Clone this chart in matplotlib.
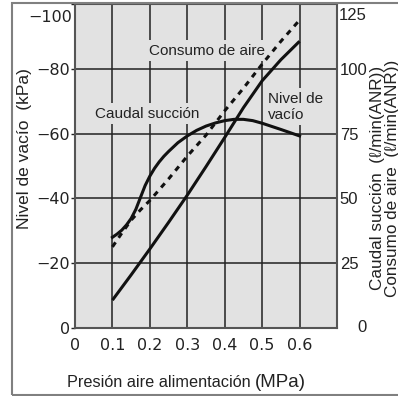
import matplotlib
matplotlib.use("Agg")
import matplotlib.pyplot as plt
from matplotlib.patches import Rectangle
from matplotlib.transforms import blended_transform_factory

plt.rcParams['font.family'] = ['Liberation Sans', 'DejaVu Sans']

# --- data ---
# Nivel de vacío (kPa, left axis)
vac_x = [0.1, 0.15, 0.2, 0.25, 0.3, 0.35, 0.4, 0.45, 0.5, 0.55, 0.6]
vac_y = [-8.6, -16.4, -24.4, -32.6, -41, -49.8, -58.8, -68, -76.3, -82.8, -88.5]

# Caudal succión (l/min ANR, right axis)
cau_x = [0.1, 0.1125, 0.125, 0.1375, 0.15, 0.1625, 0.175, 0.1875, 0.2, 0.2125, 0.225,
         0.2375, 0.25, 0.275, 0.3, 0.325, 0.35, 0.375, 0.4, 0.425, 0.45, 0.475, 0.5,
         0.55, 0.6]
cau_y = [35, 36.25, 37.75, 39.75, 42.25, 45.75, 50.4, 55, 58.6, 61.6, 64.1,
         66.25, 68.1, 71.5, 74.1, 76.25, 77.9, 79.1, 80, 80.5, 80.5, 80, 79,
         76.6, 74.1]

# Consumo de aire (l/min ANR, right axis)
con_x = [0.1, 0.125, 0.15, 0.175, 0.2, 0.25, 0.3, 0.35, 0.4, 0.45, 0.5, 0.55, 0.6]
con_y = [31.3, 36.6, 41.6, 45.6, 49.2, 57.5, 66.3, 74.4, 83.8, 92.5, 101.8, 110.6, 118.8]

x_ticks = [0, 0.1, 0.2, 0.3, 0.4, 0.5, 0.6]
x_labels = ['0', '0.1', '0.2', '0.3', '0.4', '0.5', '0.6']
left_ticks = [0, -20, -40, -60, -80, -100]
left_labels = ['0', '−20', '−40', '−60', '−80', '']
right_ticks = [25, 50, 75, 100, 125]
right_labels = ['25', '50', '75', '100', '']

W, H = 398, 396
fig = plt.figure(figsize=(W / 100, H / 100), dpi=100)
bg = '#e2e2e2'
tc = '#222222'
ax = fig.add_axes([75 / W, 1 - 328 / H, 262 / W, 324 / H])
ax.set_facecolor(bg)
ax.set_xlim(0, 0.7)
ax.set_ylim(0, -100)
ax.set_xticks(x_ticks)
ax.set_xticklabels(x_labels, fontfamily='DejaVu Sans')
ax.set_yticks(left_ticks)
ax.set_yticklabels(left_labels, fontfamily='DejaVu Sans')
ax.grid(True, color='#222222', lw=1.1)
ax.set_axisbelow(True)
for s in ax.spines.values():
    s.set_color('#555555')
    s.set_linewidth(1.5)
ax.tick_params(axis='x', length=0, pad=7, labelsize=11.5, colors=tc)
ax.tick_params(axis='y', length=3, width=1, pad=0.5, labelsize=11.5, colors=tc)
ax.text(-0.0115, 0.957, '−100', transform=ax.transAxes, ha='right', va='center',
        fontsize=11.5, color=tc, fontfamily='DejaVu Sans')

ax.plot(vac_x, vac_y, color='#111111', lw=2.2, zorder=5, solid_capstyle='butt')

ax2 = ax.twinx()
ax2.set_ylim(0, 125)
ax2.set_yticks(right_ticks)
ax2.set_yticklabels(right_labels)
ax2.tick_params(axis='y', length=0, pad=2, labelsize=12, colors=tc)
for s in ax2.spines.values():
    s.set_visible(False)
ax2.plot(cau_x, cau_y, color='#111111', lw=2.2, zorder=5)
ax2.plot(con_x, con_y, color='#111111', lw=2.2, linestyle=(0, (1.8, 1.8)), zorder=5)
tr = blended_transform_factory(ax2.transAxes, ax2.transData)
ax2.text(1.095, 0, '0', transform=tr, ha='center', va='center', fontsize=12, color=tc)
ax2.text(1.0076, 0.963, '125', transform=ax2.transAxes, ha='left', va='center',
         fontsize=12, color=tc)

box = dict(facecolor=bg, edgecolor='none', pad=2.5)
ax.text(0.353, -85.5, 'Consumo de aire', ha='center', va='center', fontsize=11,
        color=tc, bbox=box, zorder=3)
ax.text(0.193, -66.2, 'Caudal succión', ha='center', va='center', fontsize=11,
        color=tc, bbox=box, zorder=3)
ax.text(0.516, -68.3, 'Nivel de\nvacío', ha='left', va='center', fontsize=11,
        color=tc, bbox=box, zorder=3, linespacing=1.15)

fig.text(25 / W, 1 - 148.5 / H, 'Nivel de vacío  (kPa)', rotation=90, ha='center',
         va='center', fontsize=12.5, color=tc)
fig.text(385 / W, 1 - 178 / H, 'Caudal succión  (ℓ/min(ANR))\nConsumo de aire  (ℓ/min(ANR))',
         rotation=90, ha='center', va='center', fontsize=12.3, color=tc,
         linespacing=0.92, multialignment='center')
fig.text(67 / W, 9 / H, 'Presión aire alimentación', ha='left', va='baseline',
         fontsize=11.7, color=tc)
fig.text(255 / W, 9 / H, '(MPa)', ha='left', va='baseline', fontsize=13.5, color=tc)

fig.patches.append(Rectangle((12.5 / W, 1.5 / H), 1.0, (H - 4.5) / H, transform=fig.transFigure,
                             fill=False, edgecolor='#808080', lw=1.5, clip_on=False))

fig.savefig('out.png', dpi=100)
